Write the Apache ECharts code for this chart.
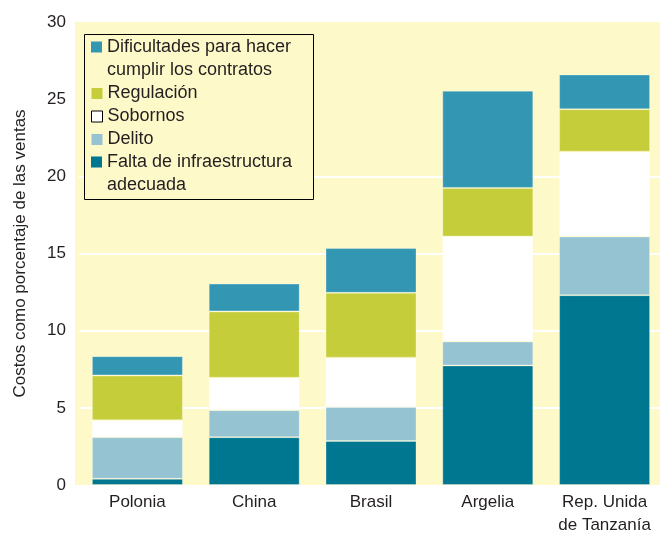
<!DOCTYPE html>
<html>
<head>
<meta charset="utf-8">
<script src="https://cdn.jsdelivr.net/npm/echarts@6/dist/echarts.min.js"></script>
<style>
html,body{margin:0;padding:0;background:#ffffff;}
#chart{width:660px;height:533px;}
</style>
</head>
<body>
<div id="chart"></div>
<script>
// ---- data ----
const categories = ['Polonia', 'China', 'Brasil', 'Argelia', 'Rep. Unida\nde Tanzanía'];
const falta        = [0.4, 3.1, 2.85, 7.75, 12.3];
const delito       = [2.7, 1.75, 2.2, 1.55, 3.8];
const sobornos     = [1.1, 2.1, 3.2, 6.8, 5.5];
const regulacion   = [2.9, 4.3, 4.2, 3.15, 2.75];
const dificultades = [1.25, 1.8, 2.9, 6.3, 2.25];
const yTicks = [0, 5, 10, 15, 20, 25, 30];

const names = {
  dif: 'Dificultades para hacer\ncumplir los contratos',
  reg: 'Regulación',
  sob: 'Sobornos',
  del: 'Delito',
  fal: 'Falta de infraestructura\nadecuada'
};
const colors = {
  dif: '#3397b3',
  reg: '#c5ce3a',
  sob: '#ffffff',
  del: '#95c3d2',
  fal: '#007791'
};
const BG = '#fef9c8';
const TXT = '#231f20';
const FONT = '"Liberation Sans", Arial, sans-serif';

const chart = echarts.init(document.getElementById('chart'), null, {renderer: 'canvas', width: 660, height: 533});

function bar(key, data) {
  return {
    name: names[key],
    type: 'bar',
    stack: 'total',
    barWidth: 91,
    data: data,
    itemStyle: {color: colors[key], borderColor: 'rgba(255,255,255,0.3)', borderWidth: 1},
    emphasis: {disabled: true}
  };
}

// two-line legend icon: square on the first line
const tallIcon = 'path://M0,5.5h11v11h-11z M0,0h0.01v0.01h-0.01z M0,45.99h0.01v0.01h-0.01z';

const legendText = {fontFamily: FONT, fontSize: 18, color: TXT, lineHeight: 23};

const option = {
  animation: false,
  textStyle: {fontFamily: FONT},
  grid: {left: 79, width: 584, top: 22, height: 463, containLabel: false, outerBoundsMode: 'none'},
  graphic: [
    {type: 'rect', z: -10, shape: {x: 75, y: 22, width: 585, height: 463}, style: {fill: BG}},
    {type: 'rect', z: 3, shape: {x: 84.5, y: 34.5, width: 229, height: 165}, style: {fill: BG, stroke: '#000', lineWidth: 1}}
  ],
  legend: [
    {
      data: [names.dif], orient: 'vertical', left: 91, top: 36, padding: 0,
      itemWidth: 11, itemHeight: 46, icon: tallIcon, selectedMode: false, z: 6,
      itemStyle: {borderWidth: 0}, textStyle: legendText
    },
    {
      data: [names.reg, {name: names.sob, itemStyle: {borderColor: '#000', borderWidth: 1}}, names.del],
      orient: 'vertical', left: 91, top: 82, padding: 0, itemGap: 0,
      itemWidth: 11, itemHeight: 11, icon: 'rect', selectedMode: false, z: 6,
      itemStyle: {borderWidth: 0}, textStyle: legendText
    },
    {
      data: [names.fal], orient: 'vertical', left: 91, top: 151, padding: 0,
      itemWidth: 11, itemHeight: 46, icon: tallIcon, selectedMode: false, z: 6,
      itemStyle: {borderWidth: 0}, textStyle: legendText
    }
  ],
  xAxis: {
    type: 'category',
    data: categories,
    axisLine: {show: false},
    axisTick: {show: false},
    axisLabel: {interval: 0, fontSize: 17, color: TXT, lineHeight: 23, margin: 6, fontFamily: FONT}
  },
  yAxis: {
    type: 'value',
    min: yTicks[0], max: yTicks[yTicks.length - 1], interval: 5,
    name: 'Costos como porcentaje de las ventas',
    nameLocation: 'middle',
    nameGap: 50,
    nameTextStyle: {fontSize: 17, color: TXT, fontFamily: FONT},
    axisLine: {show: false},
    axisTick: {show: false},
    axisLabel: {fontSize: 17, color: TXT, margin: 13, fontFamily: FONT},
    splitLine: {
      show: true,
      lineStyle: {
        width: 2,
        color: ['rgba(0,0,0,0)', '#ffffff', '#ffffff', '#ffffff', '#ffffff', 'rgba(0,0,0,0)', 'rgba(0,0,0,0)']
      }
    }
  },
  series: [
    bar('fal', falta),
    bar('del', delito),
    bar('sob', sobornos),
    bar('reg', regulacion),
    bar('dif', dificultades)
  ]
};
chart.setOption(option);
</script>
</body>
</html>
